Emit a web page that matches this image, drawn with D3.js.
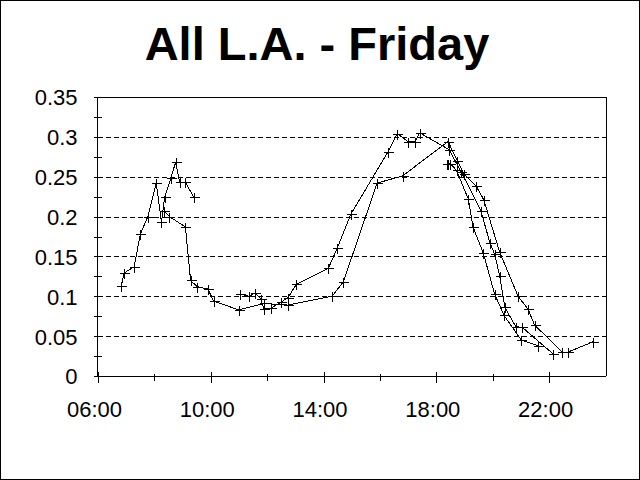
<!DOCTYPE html>
<html>
<head>
<meta charset="utf-8">
<script src="https://cdn.jsdelivr.net/npm/d3@7"></script>
<style>
  html, body { margin: 0; padding: 0; background: #fff; }
  svg { display: block; }
  text { font-family: "Liberation Sans", Arial, sans-serif; fill: #000; }
  path, line, rect { shape-rendering: crispEdges; }
</style>
</head>
<body>
<svg id="chart" width="640" height="480"></svg>
<script>
// ---- Data (time of day, share) ----
const title = "All L.A. - Friday";
const xTickLabels = ["06:00", "10:00", "14:00", "18:00", "22:00"];
const xMinorTicks = ["08:00", "12:00", "16:00", "20:00"];
const yTicks = [0, 0.05, 0.1, 0.15, 0.2, 0.25, 0.3, 0.35];
const yTickLabels = ["0", "0.05", "0.1", "0.15", "0.2", "0.25", "0.3", "0.35"];
const yMinorTicks = [0.025, 0.075, 0.125, 0.175, 0.225, 0.275, 0.325];

const seriesATimes = ["06:50","06:55","07:17","07:30","07:46","08:04","08:15","08:22","08:35","08:45","08:54","09:06","09:24"];
const seriesAValues = [0.113,0.129,0.137,0.178,0.200,0.242,0.193,0.225,0.248,0.268,0.243,0.243,0.224];

const seriesBTimes = ["08:20","08:32","09:06","09:17","09:31","09:54","10:06","10:59","11:53","12:44","14:18","14:42","15:54","16:48","18:25","18:45","18:59","19:25","19:41","20:15","20:54","21:15","21:29","22:28","22:40","23:34"];
const seriesBValues = [0.207,0.200,0.187,0.120,0.112,0.109,0.094,0.083,0.091,0.089,0.100,0.118,0.242,0.251,0.294,0.270,0.253,0.238,0.221,0.155,0.100,0.084,0.064,0.030,0.030,0.043];

const seriesCTimes = ["11:03","11:22","11:34","11:46","11:53","12:08","12:30","12:44","13:02","14:10","14:29","14:58","16:17","16:37","17:00","17:14","17:25","18:27","18:53","19:35","19:54","20:04","20:15","20:26","20:49","21:03","22:08"];
const seriesCValues = [0.103,0.100,0.104,0.097,0.084,0.085,0.093,0.098,0.115,0.135,0.160,0.203,0.281,0.304,0.294,0.294,0.305,0.284,0.256,0.207,0.167,0.153,0.125,0.086,0.062,0.061,0.028];

const seriesDTimes = ["18:22","18:25","18:30","18:43","19:08","19:18","19:40","20:04","20:24","21:01","21:36"];
const seriesDValues = [0.266,0.266,0.266,0.258,0.222,0.187,0.154,0.103,0.076,0.045,0.038];

// ---- Helpers ----
const toHours = s => { const [h, m] = s.split(":").map(Number); return h + m / 60; };
const zip = (ts, vs) => ts.map((t, i) => ({ t: toHours(t), v: vs[i] }));
const allSeries = [
  zip(seriesATimes, seriesAValues),
  zip(seriesBTimes, seriesBValues),
  zip(seriesCTimes, seriesCValues),
  zip(seriesDTimes, seriesDValues)
];

const svg = d3.select("#chart");
const W = 640, H = 480;
const plot = { left: 98, right: 605.5, top: 97, bottom: 376 };

svg.append("rect").attr("x", 0.5).attr("y", 0.5).attr("width", W - 1).attr("height", H - 1)
  .attr("fill", "#fff").attr("stroke", "#000").attr("stroke-width", 1);

const x = d3.scaleLinear().domain([6, 24]).range([plot.left, plot.right]);
const y = d3.scaleLinear().domain([0, 0.35]).range([plot.bottom, plot.top]);

// Title
svg.append("text").attr("x", 317).attr("y", 60).attr("text-anchor", "middle")
  .style("font-size", "47px").style("font-weight", "bold").text(title);

// Gridlines
svg.append("g").selectAll("line").data(yTicks.filter(d => d > 0 && d < 0.35)).join("line")
  .attr("x1", plot.left).attr("x2", plot.right)
  .attr("y1", d => Math.round(y(d)) + 0.5).attr("y2", d => Math.round(y(d)) + 0.5)
  .attr("stroke", "#000").attr("stroke-width", 1).attr("stroke-dasharray", "5,3");

// Plot border (top and right)
svg.append("path")
  .attr("d", `M${plot.left},${plot.top + 0.5}H${Math.round(plot.right) + 0.5}V${plot.bottom}`)
  .attr("fill", "none").attr("stroke", "#000").attr("stroke-width", 1);

// X axis
const xAxis = d3.axisBottom(x)
  .tickValues(xTickLabels.map(toHours))
  .tickFormat((d, i) => xTickLabels[i])
  .tickSizeOuter(0);
const gx = svg.append("g").attr("transform", `translate(0,${plot.bottom + 0.5})`).call(xAxis);
gx.select(".domain").attr("d", `M${plot.left},0H${plot.right}`).attr("stroke", "#000");
gx.selectAll(".tick line").attr("y1", -5).attr("y2", 6).attr("stroke", "#000");
gx.selectAll(".tick text").attr("y", 40.5).attr("dy", 0).attr("x", -4)
  .style("font-size", "22px").attr("font-family", null);
const xMinor = d3.axisBottom(x).tickValues(xMinorTicks.map(toHours)).tickFormat("").tickSizeOuter(0);
const gxm = svg.append("g").attr("transform", `translate(0,${plot.bottom + 0.5})`).call(xMinor);
gxm.select(".domain").remove();
gxm.selectAll(".tick line").attr("y1", -3).attr("y2", 4).attr("stroke", "#000");

// Y axis
const yAxis = d3.axisLeft(y).tickValues(yTicks).tickFormat((d, i) => yTickLabels[i]).tickSizeOuter(0);
const gy = svg.append("g").attr("transform", `translate(${plot.left - 0.5},0)`).call(yAxis);
gy.select(".domain").attr("d", `M0,${plot.top}V${plot.bottom}`).attr("stroke", "#000");
gy.selectAll(".tick line").attr("x1", -4).attr("x2", 4).attr("stroke", "#000");
gy.selectAll(".tick text").attr("x", -20).attr("dy", "0.36em")
  .style("font-size", "22px").attr("font-family", null);
const yMinor = d3.axisLeft(y).tickValues(yMinorTicks).tickFormat("").tickSizeOuter(0);
const gym = svg.append("g").attr("transform", `translate(${plot.left - 0.5},0)`).call(yMinor);
gym.select(".domain").remove();
gym.selectAll(".tick line").attr("x1", -4).attr("x2", 4).attr("stroke", "#000");

// Lines
const line = d3.line().x(d => x(d.t)).y(d => y(d.v));
svg.append("g").selectAll("path").data(allSeries).join("path")
  .attr("d", line).attr("fill", "none").attr("stroke", "#000").attr("stroke-width", 1);

// Markers (+)
const pts = allSeries.flat();
svg.append("g").selectAll("path").data(pts).join("path")
  .attr("d", d => {
    const cx = Math.round(x(d.t)) + 0.5, cy = Math.round(y(d.v)) + 0.5;
    return `M${cx - 5},${cy}H${cx + 5}M${cx},${cy - 5}V${cy + 5}`;
  })
  .attr("fill", "none").attr("stroke", "#000").attr("stroke-width", 1);
</script>
</body>
</html>
